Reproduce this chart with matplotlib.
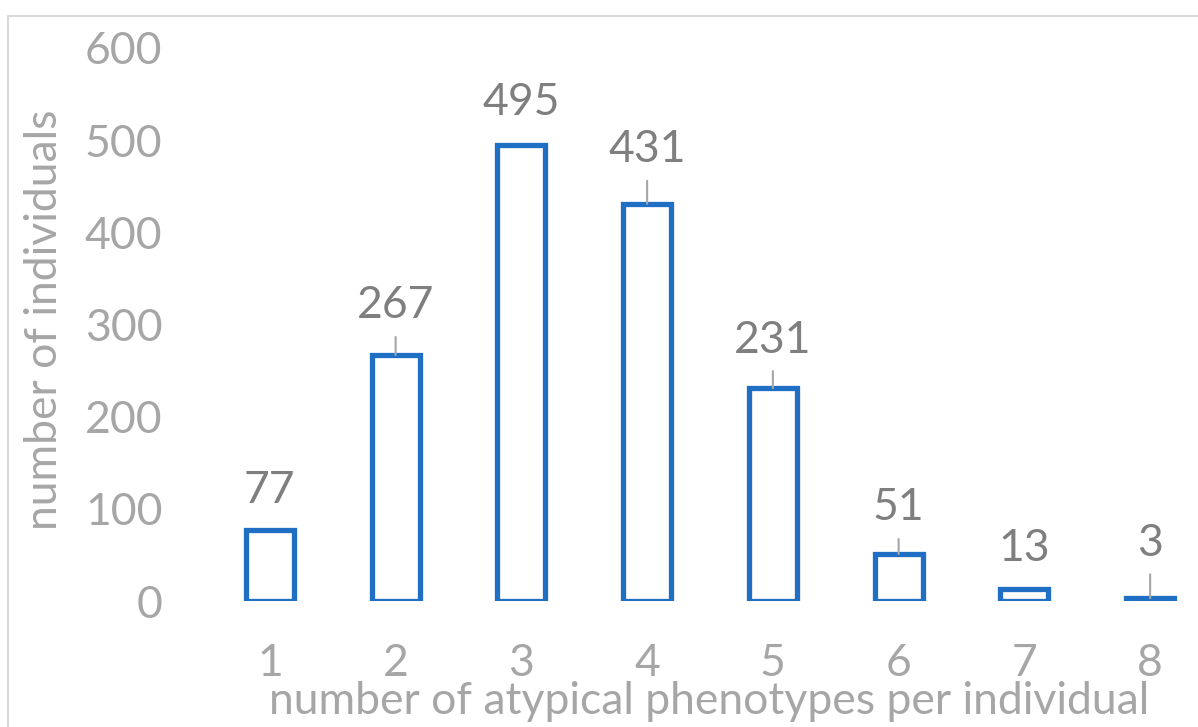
import matplotlib
matplotlib.use("Agg")
from matplotlib import pyplot as plt
from matplotlib.patches import Rectangle

# phenotype counts per individual
categories = ["1", "2", "3", "4", "5", "6", "7", "8"]
counts = [77, 267, 495, 431, 231, 51, 13, 3]
y_ticks = [0, 100, 200, 300, 400, 500, 600]

# label placement (pixels above bar top) and whether a leader line is drawn
label_offsets = [40, 49, 42, 54, 48, 46, 41, 55]
has_leader = [False, True, False, True, True, True, False, True]

W, H = 1198, 727
bar_blue = "#1f6fc5"
tick_grey = "#a6a6a6"
label_grey = "#7f7f7f"
font = "Lato"
fs = 32

plt.rcParams["font.family"] = [font, "DejaVu Sans"]

fig = plt.figure(figsize=(W / 100, H / 100), dpi=100)

# chart area border (runs off the right and bottom edges)
fig.patches.append(Rectangle((8 / W, -0.1), 1.2, (H - 16) / H + 0.1,
                             transform=fig.transFigure, fill=False,
                             edgecolor="#d9d9d9", linewidth=1.5,
                             clip_on=False))

ax = fig.add_axes([207 / W, (H - 601) / H, 1006 / W, 553 / H])
x = list(range(1, len(categories) + 1))
ax.bar(x, counts, width=0.38, facecolor="white", edgecolor=bar_blue,
       linewidth=3.8)

ax.set_xlim(0.5, 8.5)
ax.set_ylim(0, 600)
ax.set_xticks(x)
ax.set_xticklabels(categories)
ax.set_yticks(y_ticks)
ax.tick_params(axis="both", length=0, labelsize=fs, labelcolor=tick_grey)
ax.tick_params(axis="x", pad=30)
ax.tick_params(axis="y", pad=32)
for s in ax.spines.values():
    s.set_visible(False)

for xi, v, off, lead in zip(x, counts, label_offsets, has_leader):
    ax.annotate(str(v), xy=(xi, v), xytext=(0, off),
                textcoords="offset pixels", ha="center", va="center",
                fontsize=fs, color=label_grey)
    if lead:
        ax.annotate("", xy=(xi, v), xytext=(0, off - 31),
                    textcoords="offset pixels",
                    arrowprops=dict(arrowstyle="-", color="#a6a6a6", lw=1.5,
                                    shrinkA=0, shrinkB=0))

fig.text(45 / W, 1 - 320 / H, "number of individuals", rotation=90,
         ha="center", va="center", fontsize=fs, color=tick_grey)
fig.text(709 / W, 1 - 714 / H, "number of atypical phenotypes per individual",
         ha="center", va="baseline", fontsize=fs, color=tick_grey)

fig.savefig("out.png", dpi=100)
